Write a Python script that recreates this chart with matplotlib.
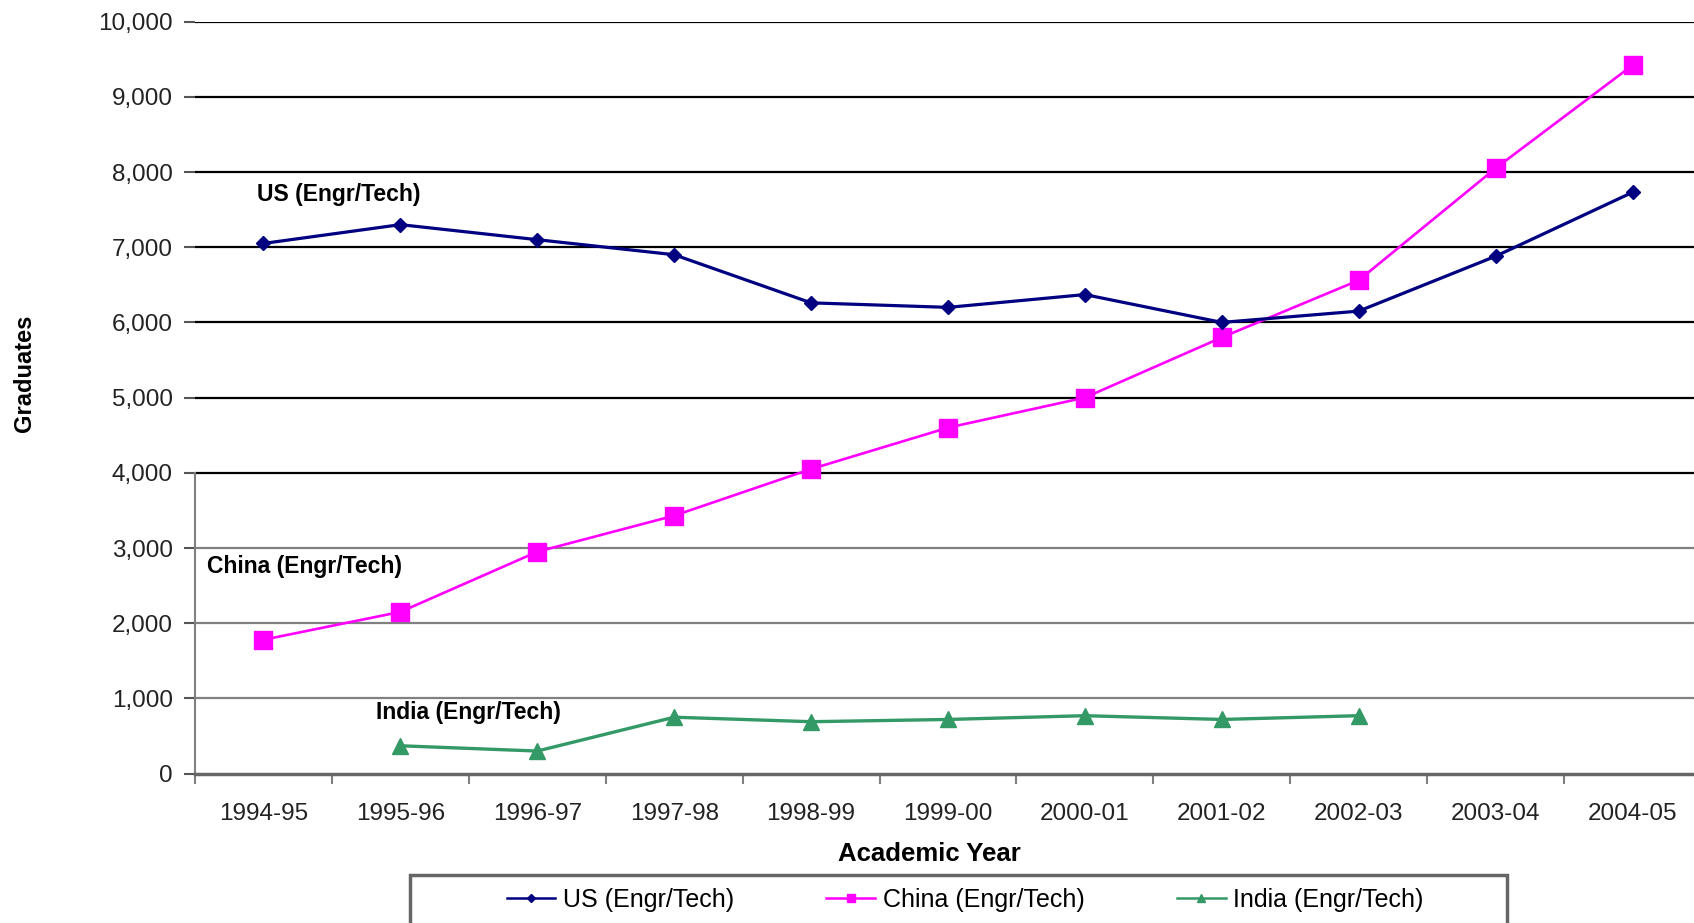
import matplotlib
matplotlib.use("Agg")
import matplotlib.pyplot as plt
from matplotlib.lines import Line2D
from matplotlib.patches import Rectangle
import numpy as np

plt.rcParams['font.family'] = ['Liberation Sans', 'DejaVu Sans']

years = ['1994-95', '1995-96', '1996-97', '1997-98', '1998-99', '1999-00',
         '2000-01', '2001-02', '2002-03', '2003-04', '2004-05']
us = [7050, 7300, 7100, 6900, 6260, 6200, 6370, 6000, 6150, 6880, 7730]
china = [1780, 2150, 2950, 3430, 4050, 4600, 5000, 5800, 6560, 8050, 9420]
india = [np.nan, 370, 300, 750, 690, 720, 770, 720, 770, np.nan, np.nan]
yticks = [0, 1000, 2000, 3000, 4000, 5000, 6000, 7000, 8000, 9000, 10000]

c_us = '#000080'
c_china = '#ff00ff'
c_india = '#339966'

fig = plt.figure(figsize=(16.94, 9.23), dpi=100)
ax = fig.add_axes([195 / 1694, 1 - 773.6 / 923, 1506 / 1694, 752 / 923])

x = np.arange(len(years))

# horizontal gridlines, darker in the upper part
for v in yticks[1:]:
    ax.axhline(v, color='black' if v >= 4000 else '#808080', lw=1.6, zorder=1)

ax.plot(x, us, color=c_us, lw=2.3, marker='D', ms=7.5, zorder=4)
ax.plot(x, china, color=c_china, lw=1.9, marker='s', ms=13.5, zorder=3)
ax.plot(x, india, color=c_india, lw=2.4, marker='^', ms=11, zorder=3)

ax.set_xlim(-0.5, len(years) - 0.5)
ax.set_ylim(0, 10000)
ax.set_yticks(yticks)
ax.set_yticklabels([f'{v:,}' for v in yticks])
ax.set_xticks(x)
ax.set_xticklabels(years)
ax.set_xticks(np.arange(-0.5, len(years)), minor=True)

ax.tick_params(axis='x', which='major', length=0, pad=21, labelsize=17.5, labelcolor='#222222')
ax.tick_params(axis='x', which='minor', length=7, width=1.5, color='#808080')
ax.tick_params(axis='y', length=8, width=1.5, color='#555555', pad=8,
               labelsize=17.5, labelcolor='#222222')

for s in ['top', 'right']:
    ax.spines[s].set_visible(False)
ax.spines['left'].set_bounds(0, 4000)
ax.spines['left'].set_color('#808080')
ax.spines['left'].set_linewidth(1.5)
ax.spines['bottom'].set_color('#666666')
ax.spines['bottom'].set_linewidth(2.5)

# series labels inside the plot
ax.text(-0.05, 7700, 'US (Engr/Tech)', fontsize=16.5, fontweight='bold', va='center')
ax.text(-0.41, 2750, 'China (Engr/Tech)', fontsize=16.5, fontweight='bold', va='center')
ax.text(0.82, 810, 'India (Engr/Tech)', fontsize=16.5, fontweight='bold', va='center')

fig.text(24 / 1694, 1 - 373 / 923, 'Graduates', rotation=90, ha='center', va='center',
         fontsize=17, fontweight='bold')
fig.text(929 / 1694, 1 - 854 / 923, 'Academic Year', ha='center', va='center',
         fontsize=18.5, fontweight='bold')

# legend box runs past the lower edge
fig.patches.append(Rectangle((410 / 1694, -0.05), 1097 / 1694, (0.05 + (923 - 875) / 923),
                             transform=fig.transFigure, facecolor='white',
                             edgecolor='#666666', lw=2.5, clip_on=False))
handles = [Line2D([], [], color=c_us, lw=1.8, marker='D', ms=4),
           Line2D([], [], color=c_china, lw=1.8, marker='s', ms=6),
           Line2D([], [], color=c_india, lw=1.8, marker='^', ms=6)]
fig.legend(handles, ['US (Engr/Tech)', 'China (Engr/Tech)', 'India (Engr/Tech)'],
           loc='center', bbox_to_anchor=(965 / 1694, 1 - 900 / 923), ncol=3,
           frameon=False, fontsize=18, handlelength=1.95, handletextpad=0.3,
           columnspacing=3.7)

fig.savefig('out.png', dpi=100)
